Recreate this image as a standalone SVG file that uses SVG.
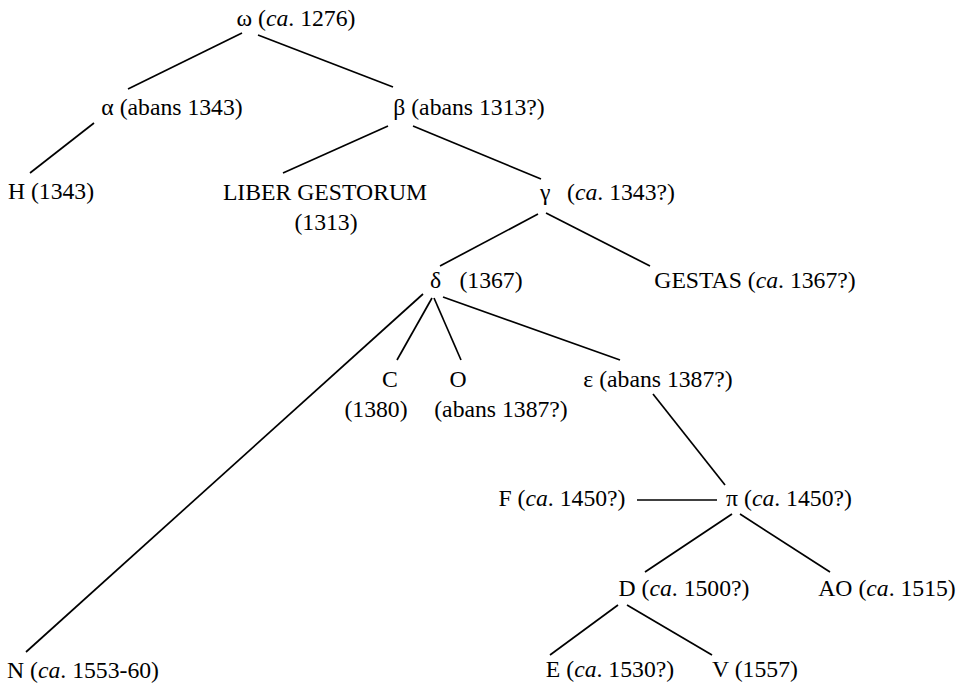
<svg xmlns="http://www.w3.org/2000/svg" width="963" height="687" viewBox="0 0 963 687">
<style>
text{font-family:"Liberation Serif","Times New Roman",serif;font-size:23.7px;fill:#000}
.m{text-anchor:middle}
.i{font-style:italic}
#edges line{stroke:#000;stroke-width:1.7}
</style>
<rect width="963" height="687" fill="#fff"/>
<g id="edges">
<line x1="242" y1="33" x2="128" y2="89"/>
<line x1="258" y1="35" x2="393" y2="87"/>
<line x1="94" y1="123" x2="30" y2="173"/>
<line x1="388" y1="126" x2="283" y2="173"/>
<line x1="413" y1="126" x2="541" y2="179"/>
<line x1="538" y1="214" x2="440" y2="266"/>
<line x1="546" y1="213" x2="650" y2="266"/>
<line x1="423" y1="294" x2="26" y2="652"/>
<line x1="432" y1="298" x2="397" y2="360"/>
<line x1="434" y1="298" x2="461" y2="360"/>
<line x1="443" y1="297" x2="620" y2="360"/>
<line x1="653" y1="394" x2="725" y2="485"/>
<line x1="637" y1="500" x2="717" y2="500"/>
<line x1="732" y1="514" x2="645" y2="572"/>
<line x1="740" y1="514" x2="830" y2="572"/>
<line x1="618" y1="605" x2="550" y2="655"/>
<line x1="627" y1="605" x2="712" y2="655"/>
</g>
<g id="omega"><text class="m" x="296" y="26">ω (<tspan class="i">ca</tspan>. 1276)</text></g>
<g id="alpha"><text class="m" x="172" y="115">α (abans 1343)</text></g>
<g id="beta"><text class="m" x="469" y="115">β (abans 1313?)</text></g>
<g id="H"><text class="m" x="51" y="199">H (1343)</text></g>
<g id="liber"><text class="m" x="325" y="200">LIBER GESTORUM</text><text class="m" x="326" y="230">(1313)</text></g>
<g id="gamma"><text x="540" y="200">γ</text><text class="m" x="621" y="200">(<tspan class="i">ca</tspan>. 1343?)</text></g>
<g id="delta"><text x="430" y="288">δ</text><text class="m" x="491" y="288">(1367)</text></g>
<g id="gestas"><text class="m" x="755" y="288">GESTAS (<tspan class="i">ca</tspan>. 1367?)</text></g>
<g id="C"><text class="m" x="390" y="387">C</text><text class="m" x="376" y="417">(1380)</text></g>
<g id="O"><text class="m" x="458" y="387">O</text><text class="m" x="501" y="417">(abans 1387?)</text></g>
<g id="epsilon"><text class="m" x="658" y="387">ε (abans 1387?)</text></g>
<g id="F"><text class="m" x="562" y="506">F (<tspan class="i">ca</tspan>. 1450?)</text></g>
<g id="pi"><text class="m" x="789" y="506">π (<tspan class="i">ca</tspan>. 1450?)</text></g>
<g id="D"><text class="m" x="684" y="596">D (<tspan class="i">ca</tspan>. 1500?)</text></g>
<g id="AO"><text class="m" x="887" y="596">AO (<tspan class="i">ca</tspan>. 1515)</text></g>
<g id="E"><text class="m" x="610" y="677">E (<tspan class="i">ca</tspan>. 1530?)</text></g>
<g id="V"><text class="m" x="755" y="677">V (1557)</text></g>
<g id="N"><text class="m" x="83" y="678">N (<tspan class="i">ca</tspan>. 1553-60)</text></g>
</svg>
